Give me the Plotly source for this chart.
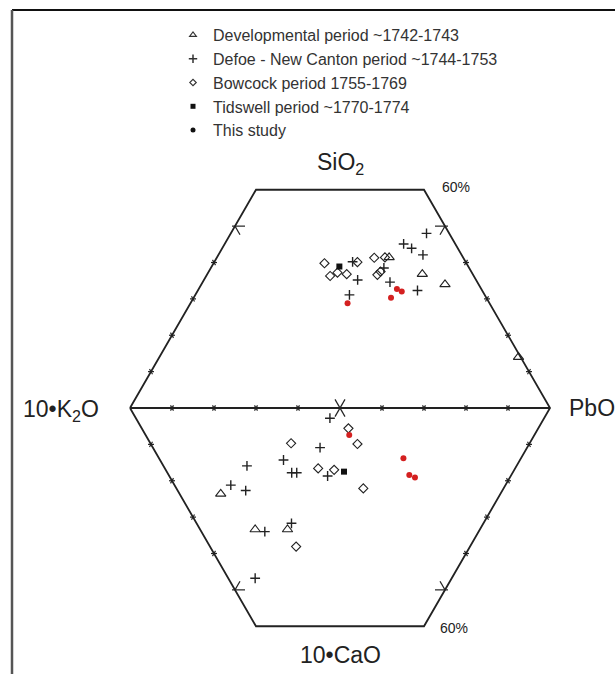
import math
import plotly.graph_objects as go

# ---------------- data (wt %) ----------------
# Upper triangle: SiO2 - PbO - 10*K2O ; lower triangle: 10*CaO - PbO - 10*K2O
series_names = [
    "Developmental period ~1742-1743",
    "Defoe - New Canton period ~1744-1753",
    "Bowcock period 1755-1769",
    "Tidswell period ~1770-1774",
    "This study",
]

dev_sio2 = [41.4, 36.8, 34.0, 14.0]
dev_pbo_up = [41.0, 51.2, 58.0, 85.5]
dev_cao = [23.6, 33.4, 33.4]
dev_pbo_lo = [9.8, 13.1, 20.8]

defoe_sio2 = [40.2, 35.2, 31.1, 38.5, 34.6, 45.1, 43.9, 42.1, 48.0, 32.3]
defoe_pbo_up = [32.9, 36.6, 36.7, 41.2, 44.6, 42.6, 45.1, 48.7, 46.6, 52.3]
defoe_cao = [2.8, 10.9, 14.3, 15.9, 17.8, 17.8, 18.7, 21.2, 22.7, 34.0, 31.7, 46.8]
defoe_pbo_lo = [46.2, 39.8, 29.4, 19.9, 29.6, 30.8, 37.7, 13.4, 16.2, 15.1, 22.6, 6.4]

bow_sio2 = [39.8, 40.1, 36.3, 37.2, 36.8, 41.3, 41.4, 36.6, 37.5]
bow_pbo_up = [26.4, 34.1, 29.5, 30.8, 33.2, 37.5, 40.0, 40.6, 40.9]
bow_cao = [5.6, 9.9, 9.7, 16.6, 17.0, 22.1, 38.1]
bow_pbo_lo = [49.2, 49.2, 33.5, 36.5, 40.1, 44.5, 20.5]

tid_sio2 = [38.9]
tid_pbo_up = [30.4]
tid_cao = [17.5]
tid_pbo_lo = [42.2]

study_sio2 = [28.8, 32.7, 32.0, 30.3]
study_pbo_up = [37.4, 47.2, 48.7, 47.0]
study_cao = [7.4, 13.8, 18.4, 19.1]
study_pbo_lo = [48.5, 58.2, 57.3, 58.3]

edge_ticks = [10, 20, 30, 40, 50]          # SiO2 / 10*CaO ticks on side edges
base_ticks = [10, 20, 30, 40, 50, 60, 70, 80, 90]  # PbO ticks on the K2O-PbO line
major_tick = 50
cut_level = 60                              # diagram truncated at 60 %

# ---------------- ternary -> cartesian helpers ----------------
H = math.sqrt(3) / 2


def up_xy(s, p):
    return p / 100 + s / 200, s / 100 * H


def lo_xy(c, p):
    return p / 100 + c / 200, -c / 100 * H


def conv(fn, a_vals, p_vals):
    xs, ys = [], []
    for a, p in zip(a_vals, p_vals):
        x, y = fn(a, p)
        xs.append(x)
        ys.append(y)
    return xs, ys


PX = 420.0  # pixels per unit side (used only for tick lengths)
small = 3.0 / PX
big = 10 / PX

fig = go.Figure()

# hexagon outline
hex_pts = [up_xy(0, 0), up_xy(cut_level, 0), up_xy(cut_level, 100 - cut_level), up_xy(0, 100),
           lo_xy(cut_level, 100 - cut_level), lo_xy(cut_level, 0), up_xy(0, 0)]
fig.add_trace(go.Scatter(x=[q[0] for q in hex_pts], y=[q[1] for q in hex_pts], mode="lines",
                         line=dict(color="#222222", width=1.8), hoverinfo="skip", showlegend=False))
# K2O - PbO line
b0, b1 = up_xy(0, 0), up_xy(0, 100)
fig.add_trace(go.Scatter(x=[b0[0], b1[0]], y=[b0[1], b1[1]], mode="lines",
                         line=dict(color="#222222", width=2.2), hoverinfo="skip", showlegend=False))

# ticks
tx, ty = [], []


def seg(x0, y0, dx, dy, l0, l1):
    tx.extend([x0 + dx * l0, x0 + dx * l1, None])
    ty.extend([y0 + dy * l0, y0 + dy * l1, None])


for t in base_ticks:
    x0, y0 = up_xy(0, t)
    L = big if t == major_tick else small
    seg(x0, y0, 0.5, H, -L, L)
    seg(x0, y0, -0.5, H, -L, L)

for t in edge_ticks:
    for sgn in (1, -1):
        # left edge (p = 0)
        x0, y0 = t / 200, sgn * t / 100 * H
        if t == major_tick:
            seg(x0, y0, 1, 0, -small, big)
            seg(x0, y0, 0.5, -sgn * H, 0, big)
        else:
            seg(x0, y0, 1, 0, -small, small)
            seg(x0, y0, 0.5, -sgn * H, -small, small)
        # right edge (K2O = 0)
        x0 = 1 - t / 200
        if t == major_tick:
            seg(x0, y0, -1, 0, -small, big)
            seg(x0, y0, -0.5, -sgn * H, 0, big)
        else:
            seg(x0, y0, -1, 0, -small, small)
            seg(x0, y0, -0.5, -sgn * H, -small, small)

fig.add_trace(go.Scatter(x=tx, y=ty, mode="lines", line=dict(color="#222222", width=1.2),
                         hoverinfo="skip", showlegend=False))

# data series
styles = [
    dict(symbol="triangle-up-open", size=9, color="#222222", line=dict(width=1.1, color="#222222")),
    dict(symbol="cross-thin", size=7, color="#222222", line=dict(width=1.4, color="#222222")),
    dict(symbol="diamond-open", size=7, color="#222222", line=dict(width=1.1, color="#222222")),
    dict(symbol="square", size=6, color="#111111", line=dict(width=0)),
    dict(symbol="circle", size=6, color="#d42020", line=dict(width=0)),
]
legend_styles = [
    dict(symbol="triangle-up-open", size=6, color="#333333", line=dict(width=1.1, color="#333333")),
    dict(symbol="cross-thin", size=6, color="#333333", line=dict(width=1.5, color="#333333")),
    dict(symbol="diamond-open", size=5, color="#333333", line=dict(width=1.1, color="#333333")),
    dict(symbol="square", size=5, color="#111111", line=dict(width=0)),
    dict(symbol="circle", size=5, color="#111111", line=dict(width=0)),
]
data_sets = [
    (dev_sio2, dev_pbo_up, dev_cao, dev_pbo_lo),
    (defoe_sio2, defoe_pbo_up, defoe_cao, defoe_pbo_lo),
    (bow_sio2, bow_pbo_up, bow_cao, bow_pbo_lo),
    (tid_sio2, tid_pbo_up, tid_cao, tid_pbo_lo),
    (study_sio2, study_pbo_up, study_cao, study_pbo_lo),
]

for i, (name, ds) in enumerate(zip(series_names, data_sets)):
    xu, yu = conv(up_xy, ds[0], ds[1])
    xl, yl = conv(lo_xy, ds[2], ds[3])
    fig.add_trace(go.Scatter(x=xu + xl, y=yu + yl, mode="markers", name=name,
                             marker=styles[i], showlegend=False, legendgroup=f"g{i}"))
    fig.add_trace(go.Scatter(x=[None], y=[None], mode="markers", name=name,
                             marker=legend_styles[i], showlegend=True, legendgroup=f"g{i}"))

# labels
font_lab = dict(family="Liberation Sans, Arial, sans-serif", size=23, color="#222222")
font_pct = dict(family="Liberation Sans, Arial, sans-serif", size=14, color="#222222")
ann = []
ann.append(dict(x=0.5, y=(408 - 163) / PX, text="SiO<sub>2</sub>", font=font_lab))
ann.append(dict(x=(61 - 130) / PX, y=(408 - 410) / PX, text="10•K<sub>2</sub>O", font=font_lab))
ann.append(dict(x=(592 - 130) / PX, y=0, text="PbO", font=font_lab))
ann.append(dict(x=0.5, y=(408 - 655) / PX, text="10•CaO", font=font_lab))
ann.append(dict(x=(456 - 130) / PX, y=(408 - 187) / PX, text="60%", font=font_pct))
ann.append(dict(x=(454 - 130) / PX, y=(408 - 628) / PX, text="60%", font=font_pct))
for a in ann:
    a.update(xref="x", yref="y", showarrow=False, xanchor="center", yanchor="middle")

fig.update_layout(
    width=615, height=674,
    margin=dict(l=0, r=0, t=0, b=0),
    paper_bgcolor="white", plot_bgcolor="white",
    xaxis=dict(range=[-130 / PX, 485 / PX], visible=False, fixedrange=True),
    yaxis=dict(range=[-266 / PX, 408 / PX], visible=False, fixedrange=True),
    showlegend=True,
    legend=dict(x=173 / 615, y=1 - 18 / 674, xanchor="left", yanchor="top",
                traceorder="grouped", tracegroupgap=0, bgcolor="rgba(0,0,0,0)",
                font=dict(family="Liberation Sans, Arial, sans-serif", size=16, color="#333333")),
    annotations=ann,
    shapes=[
        dict(type="line", xref="paper", yref="paper", x0=12 / 615, x1=1, y0=1 - 10 / 674, y1=1 - 10 / 674,
             line=dict(color="#111111", width=2)),
        dict(type="line", xref="paper", yref="paper", x0=12 / 615, x1=12 / 615, y0=0, y1=1 - 10 / 674,
             line=dict(color="#555555", width=2.5)),
    ],
)

fig.write_html("out.html", config={"displayModeBar": False},
               post_script="document.body.style.margin='0';document.body.style.overflow='hidden';")
